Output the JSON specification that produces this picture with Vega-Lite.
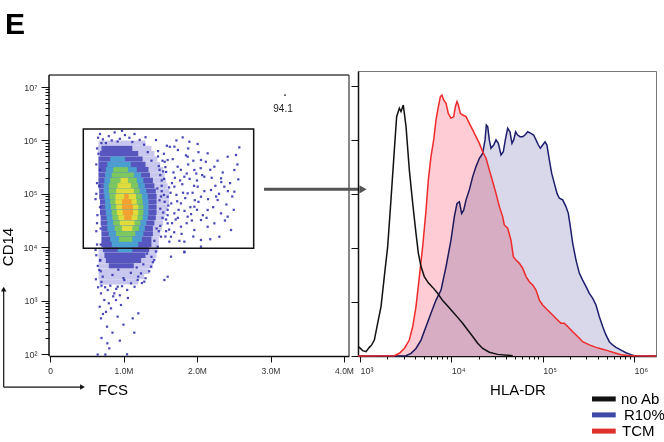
{
"$schema": "https://vega.github.io/schema/vega-lite/v6.json",
"padding": {"top": 9, "left": 0, "right": 0, "bottom": 0},
"autosize": {"type": "pad"},
"spacing": 9,
"bounds": "flush",
"resolve": {"scale": {"color": "independent"}},
"config": {"font": "Liberation Sans", "view": {"stroke": null}, "axis": {"grid": false, "title": null, "labelFont": "Liberation Sans", "labelColor": "#333", "tickColor": "#111", "domainColor": "#111", "labelOverlap": false, "labelFlush": false, "labelBound": false}},
"datasets": {
"dens": [
{"y":5.9,"y2":6.0,"x":0.66,"x2":1.30,"d":1},
{"y":5.8,"y2":5.9,"x":0.65,"x2":1.38,"d":1},{"y":5.8,"y2":5.9,"x":0.70,"x2":1.12,"d":2},
{"y":5.7,"y2":5.8,"x":0.65,"x2":1.42,"d":1},{"y":5.7,"y2":5.8,"x":0.68,"x2":1.20,"d":2},
{"y":5.6,"y2":5.7,"x":0.66,"x2":1.46,"d":1},{"y":5.6,"y2":5.7,"x":0.66,"x2":1.26,"d":2},{"y":5.6,"y2":5.7,"x":0.82,"x2":1.02,"d":3},
{"y":5.5,"y2":5.6,"x":0.66,"x2":1.50,"d":1},{"y":5.5,"y2":5.6,"x":0.66,"x2":1.30,"d":2},{"y":5.5,"y2":5.6,"x":0.78,"x2":1.10,"d":3},
{"y":5.4,"y2":5.5,"x":0.66,"x2":1.54,"d":1},{"y":5.4,"y2":5.5,"x":0.66,"x2":1.34,"d":2},{"y":5.4,"y2":5.5,"x":0.76,"x2":1.18,"d":3},{"y":5.4,"y2":5.5,"x":0.86,"x2":1.06,"d":4},
{"y":5.3,"y2":5.4,"x":0.66,"x2":1.56,"d":1},{"y":5.3,"y2":5.4,"x":0.66,"x2":1.36,"d":2},{"y":5.3,"y2":5.4,"x":0.75,"x2":1.24,"d":3},{"y":5.3,"y2":5.4,"x":0.84,"x2":1.14,"d":4},
{"y":5.2,"y2":5.3,"x":0.66,"x2":1.58,"d":1},{"y":5.2,"y2":5.3,"x":0.66,"x2":1.40,"d":2},{"y":5.2,"y2":5.3,"x":0.74,"x2":1.27,"d":3},{"y":5.2,"y2":5.3,"x":0.82,"x2":1.18,"d":4},{"y":5.2,"y2":5.3,"x":0.96,"x2":1.06,"d":5},
{"y":5.1,"y2":5.2,"x":0.66,"x2":1.60,"d":1},{"y":5.1,"y2":5.2,"x":0.66,"x2":1.42,"d":2},{"y":5.1,"y2":5.2,"x":0.73,"x2":1.29,"d":3},{"y":5.1,"y2":5.2,"x":0.80,"x2":1.20,"d":4},{"y":5.1,"y2":5.2,"x":0.92,"x2":1.10,"d":5},
{"y":5.0,"y2":5.1,"x":0.67,"x2":1.62,"d":1},{"y":5.0,"y2":5.1,"x":0.67,"x2":1.44,"d":2},{"y":5.0,"y2":5.1,"x":0.73,"x2":1.31,"d":3},{"y":5.0,"y2":5.1,"x":0.80,"x2":1.22,"d":4},{"y":5.0,"y2":5.1,"x":0.90,"x2":1.14,"d":5},
{"y":4.9,"y2":5.0,"x":0.67,"x2":1.62,"d":1},{"y":4.9,"y2":5.0,"x":0.67,"x2":1.45,"d":2},{"y":4.9,"y2":5.0,"x":0.74,"x2":1.33,"d":3},{"y":4.9,"y2":5.0,"x":0.81,"x2":1.25,"d":4},{"y":4.9,"y2":5.0,"x":0.89,"x2":1.17,"d":5},{"y":4.9,"y2":5.0,"x":1.01,"x2":1.07,"d":6},
{"y":4.8,"y2":4.9,"x":0.68,"x2":1.62,"d":1},{"y":4.8,"y2":4.9,"x":0.68,"x2":1.45,"d":2},{"y":4.8,"y2":4.9,"x":0.75,"x2":1.34,"d":3},{"y":4.8,"y2":4.9,"x":0.82,"x2":1.26,"d":4},{"y":4.8,"y2":4.9,"x":0.89,"x2":1.18,"d":5},{"y":4.8,"y2":4.9,"x":0.98,"x2":1.11,"d":6},
{"y":4.7,"y2":4.8,"x":0.68,"x2":1.60,"d":1},{"y":4.7,"y2":4.8,"x":0.68,"x2":1.45,"d":2},{"y":4.7,"y2":4.8,"x":0.75,"x2":1.34,"d":3},{"y":4.7,"y2":4.8,"x":0.83,"x2":1.27,"d":4},{"y":4.7,"y2":4.8,"x":0.90,"x2":1.20,"d":5},{"y":4.7,"y2":4.8,"x":0.98,"x2":1.13,"d":6},
{"y":4.6,"y2":4.7,"x":0.68,"x2":1.58,"d":1},{"y":4.6,"y2":4.7,"x":0.68,"x2":1.45,"d":2},{"y":4.6,"y2":4.7,"x":0.76,"x2":1.34,"d":3},{"y":4.6,"y2":4.7,"x":0.84,"x2":1.27,"d":4},{"y":4.6,"y2":4.7,"x":0.91,"x2":1.20,"d":5},{"y":4.6,"y2":4.7,"x":0.99,"x2":1.13,"d":6},
{"y":4.5,"y2":4.6,"x":0.69,"x2":1.56,"d":1},{"y":4.5,"y2":4.6,"x":0.69,"x2":1.44,"d":2},{"y":4.5,"y2":4.6,"x":0.77,"x2":1.33,"d":3},{"y":4.5,"y2":4.6,"x":0.85,"x2":1.26,"d":4},{"y":4.5,"y2":4.6,"x":0.93,"x2":1.19,"d":5},{"y":4.5,"y2":4.6,"x":1.01,"x2":1.11,"d":6},
{"y":4.4,"y2":4.5,"x":0.69,"x2":1.54,"d":1},{"y":4.4,"y2":4.5,"x":0.69,"x2":1.42,"d":2},{"y":4.4,"y2":4.5,"x":0.78,"x2":1.31,"d":3},{"y":4.4,"y2":4.5,"x":0.86,"x2":1.23,"d":4},{"y":4.4,"y2":4.5,"x":0.95,"x2":1.15,"d":5},
{"y":4.3,"y2":4.4,"x":0.70,"x2":1.52,"d":1},{"y":4.3,"y2":4.4,"x":0.70,"x2":1.40,"d":2},{"y":4.3,"y2":4.4,"x":0.78,"x2":1.29,"d":3},{"y":4.3,"y2":4.4,"x":0.88,"x2":1.21,"d":4},{"y":4.3,"y2":4.4,"x":0.98,"x2":1.12,"d":5},
{"y":4.2,"y2":4.3,"x":0.70,"x2":1.50,"d":1},{"y":4.2,"y2":4.3,"x":0.70,"x2":1.40,"d":2},{"y":4.2,"y2":4.3,"x":0.80,"x2":1.27,"d":3},{"y":4.2,"y2":4.3,"x":0.90,"x2":1.16,"d":4},
{"y":4.1,"y2":4.2,"x":0.70,"x2":1.48,"d":1},{"y":4.1,"y2":4.2,"x":0.70,"x2":1.38,"d":2},{"y":4.1,"y2":4.2,"x":0.82,"x2":1.25,"d":3},{"y":4.1,"y2":4.2,"x":0.94,"x2":1.12,"d":4},
{"y":4.0,"y2":4.1,"x":0.70,"x2":1.48,"d":1},{"y":4.0,"y2":4.1,"x":0.70,"x2":1.38,"d":2},{"y":4.0,"y2":4.1,"x":0.84,"x2":1.20,"d":3},
{"y":3.9,"y2":4.0,"x":0.66,"x2":1.47,"d":1},{"y":3.9,"y2":4.0,"x":0.72,"x2":1.35,"d":2},{"y":3.9,"y2":4.0,"x":0.92,"x2":1.12,"d":3},
{"y":3.8,"y2":3.9,"x":0.66,"x2":1.45,"d":1},{"y":3.8,"y2":3.9,"x":0.74,"x2":1.30,"d":2},
{"y":3.7,"y2":3.8,"x":0.66,"x2":1.42,"d":1},{"y":3.7,"y2":3.8,"x":0.76,"x2":1.24,"d":2},
{"y":3.6,"y2":3.7,"x":0.66,"x2":1.40,"d":1},{"y":3.6,"y2":3.7,"x":0.80,"x2":1.14,"d":2},
{"y":3.5,"y2":3.6,"x":0.66,"x2":1.35,"d":1},
{"y":3.4,"y2":3.5,"x":0.66,"x2":1.28,"d":1},
{"y":3.3,"y2":3.4,"x":0.67,"x2":1.20,"d":1}
],
"pts": [
{"x":1.442,"y":6.007},{"x":1.805,"y":6.057},{"x":1.896,"y":5.976},{"x":2.009,"y":5.933},{"x":1.692,"y":5.883},{"x":2.576,"y":5.870},{"x":2.417,"y":5.695},{"x":2.531,"y":5.727},{"x":2.054,"y":5.633},{"x":2.236,"y":5.508},{"x":2.508,"y":5.446},{"x":2.327,"y":5.290},{"x":2.562,"y":5.271},{"x":1.873,"y":5.695},{"x":2.145,"y":5.758},{"x":1.601,"y":5.633},{"x":1.737,"y":5.508},{"x":1.964,"y":5.446},{"x":2.100,"y":5.321},{"x":1.828,"y":5.321},{"x":2.009,"y":5.134},{"x":2.190,"y":5.071},{"x":2.372,"y":5.134},{"x":2.508,"y":5.040},{"x":1.692,"y":5.134},{"x":1.873,"y":5.009},{"x":2.054,"y":4.946},{"x":2.281,"y":4.884},{"x":1.601,"y":4.946},{"x":1.782,"y":4.821},{"x":1.964,"y":4.759},{"x":2.145,"y":4.697},{"x":2.327,"y":4.634},{"x":1.692,"y":4.634},{"x":1.873,"y":4.572},{"x":2.054,"y":4.509},{"x":2.236,"y":4.447},{"x":2.417,"y":4.572},{"x":1.601,"y":4.447},{"x":1.782,"y":4.384},{"x":1.964,"y":4.322},{"x":2.145,"y":4.384},{"x":2.304,"y":4.197},{"x":2.463,"y":4.322},{"x":1.646,"y":4.197},{"x":1.828,"y":4.104},{"x":2.054,"y":4.135},{"x":1.510,"y":4.197},{"x":1.465,"y":4.010},{"x":1.624,"y":4.104},{"x":1.828,"y":3.916},{"x":1.556,"y":3.386},{"x":2.054,"y":4.010},
{"x":1.48,"y":5.52},{"x":1.52,"y":5.25},{"x":1.55,"y":4.98},{"x":1.50,"y":4.72},{"x":1.53,"y":4.55},{"x":1.58,"y":5.41},{"x":1.62,"y":5.12},{"x":1.65,"y":4.82},{"x":1.60,"y":4.60},{"x":1.67,"y":5.65},{"x":1.70,"y":5.30},{"x":1.72,"y":4.98},{"x":1.75,"y":4.70},{"x":1.78,"y":5.45},{"x":1.80,"y":5.18},{"x":1.84,"y":4.92},{"x":1.88,"y":5.55},{"x":1.90,"y":5.28},{"x":1.94,"y":5.02},{"x":1.97,"y":4.88},{"x":1.47,"y":5.80},{"x":1.55,"y":5.75},{"x":1.63,"y":5.88},{"x":1.74,"y":5.82},{"x":1.85,"y":5.72},{"x":1.95,"y":5.62},{"x":1.50,"y":4.40},{"x":1.58,"y":4.30},{"x":1.66,"y":4.45},{"x":1.74,"y":4.55},{"x":1.86,"y":4.45},{"x":1.92,"y":4.62},{"x":2.00,"y":5.25},{"x":2.05,"y":5.48},{"x":2.10,"y":5.05},{"x":2.15,"y":4.90},{"x":2.20,"y":5.30},{"x":2.25,"y":5.15},{"x":2.30,"y":5.00},{"x":2.35,"y":5.40},{"x":2.12,"y":5.60},{"x":2.22,"y":4.75},{"x":2.40,"y":4.80},{"x":2.45,"y":5.20},{"x":2.00,"y":4.70},{"x":2.08,"y":4.60},{"x":1.46,"y":5.10},{"x":1.49,"y":4.88},{"x":1.56,"y":5.60},{"x":1.64,"y":5.02},{"x":1.69,"y":4.28},{"x":1.76,"y":4.12},{"x":1.81,"y":5.02},{"x":1.91,"y":4.75},{"x":1.99,"y":5.38},{"x":2.28,"y":5.62},{"x":2.38,"y":4.50},{"x":2.48,"y":4.95},{"x":2.55,"y":5.55},{"x":1.57,"y":4.20},
{"x":1.52,"y":5.05},{"x":1.54,"y":4.65},{"x":1.61,"y":4.78},{"x":1.68,"y":5.40},{"x":1.71,"y":4.52},{"x":1.77,"y":5.25},{"x":1.83,"y":4.68},{"x":1.86,"y":5.38},{"x":1.93,"y":4.50},{"x":1.96,"y":5.15},{"x":2.02,"y":4.85},{"x":2.07,"y":5.35},{"x":2.13,"y":4.55},{"x":2.18,"y":5.45},{"x":2.26,"y":4.95},{"x":2.33,"y":5.22},{"x":2.42,"y":5.05},{"x":2.50,"y":4.70},{"x":1.59,"y":5.90},{"x":1.72,"y":6.00},{"x":1.88,"y":5.85},{"x":2.02,"y":5.78},{"x":1.48,"y":4.30},{"x":1.62,"y":4.33},{"x":1.79,"y":4.25},{"x":1.95,"y":4.20},{"x":2.18,"y":4.15},{"x":1.54,"y":5.42},{"x":1.66,"y":5.20},{"x":1.73,"y":4.86},
{"x":0.68,"y":6.12},{"x":0.72,"y":6.02},{"x":0.80,"y":6.08},{"x":0.88,"y":6.15},{"x":0.95,"y":6.03},{"x":1.02,"y":6.10},{"x":1.08,"y":6.05},{"x":1.15,"y":6.12},{"x":0.76,"y":5.95},{"x":0.92,"y":5.98},{"x":1.12,"y":5.97},{"x":1.22,"y":6.01},{"x":0.98,"y":6.18},{"x":1.30,"y":6.06},{"x":0.84,"y":6.00},
{"x":0.63,"y":5.55},{"x":0.64,"y":5.20},{"x":0.62,"y":4.90},{"x":0.645,"y":4.60},{"x":0.63,"y":4.30},{"x":0.64,"y":4.05},{"x":0.63,"y":3.85},{"x":0.65,"y":3.65},{"x":0.625,"y":3.40},{"x":0.64,"y":5.85},{"x":0.655,"y":6.05},{"x":0.63,"y":5.00},{"x":0.64,"y":4.45},{"x":0.62,"y":3.95},{"x":0.655,"y":3.25},
{"x":1.47,"y":5.70},{"x":1.50,"y":5.35},{"x":1.52,"y":5.15},{"x":1.56,"y":4.85},{"x":1.58,"y":4.52},{"x":1.45,"y":4.35},{"x":1.51,"y":4.95},{"x":1.49,"y":5.45},{"x":1.55,"y":5.28},{"x":1.42,"y":4.12},{"x":1.44,"y":3.92},{"x":1.40,"y":3.72},{"x":1.35,"y":3.55},{"x":1.30,"y":3.42},{"x":1.25,"y":3.33},{"x":1.20,"y":3.45},{"x":1.38,"y":3.82},{"x":1.33,"y":5.78},{"x":1.38,"y":5.62},{"x":1.28,"y":5.92},{"x":0.70,"y":5.95},{"x":0.66,"y":5.75},{"x":0.68,"y":5.45},{"x":0.67,"y":5.15},{"x":0.68,"y":4.75},{"x":0.69,"y":4.35},{"x":0.69,"y":4.05},{"x":0.68,"y":3.75},{"x":0.69,"y":3.55},{"x":0.70,"y":3.35},{"x":1.00,"y":3.42},{"x":1.10,"y":3.52},{"x":0.85,"y":3.48},{"x":0.93,"y":3.58},{"x":1.18,"y":3.62},{"x":1.27,"y":3.68},{"x":1.32,"y":3.88},{"x":1.60,"y":4.70},{"x":1.57,"y":5.50},{"x":1.53,"y":5.62},
{"x":0.75,"y":3.25},{"x":0.82,"y":3.28},{"x":0.90,"y":3.22},{"x":0.98,"y":3.27},{"x":1.05,"y":3.20},{"x":1.15,"y":3.26},{"x":0.70,"y":3.28},{"x":0.86,"y":3.08},{"x":0.95,"y":3.10},{"x":1.06,"y":3.05},{"x":0.80,"y":2.95},{"x":0.72,"y":2.75},{"x":0.92,"y":2.70},{"x":1.00,"y":2.55},{"x":0.85,"y":2.40},{"x":0.70,"y":2.30},{"x":0.95,"y":2.25},{"x":0.78,"y":2.20},
{"x":0.694,"y":2.668},{"x":0.676,"y":2.886},{"x":0.776,"y":2.512},{"x":0.807,"y":2.106},{"x":1.125,"y":2.668},{"x":1.202,"y":2.762},{"x":1.147,"y":2.400},{"x":0.649,"y":1.990},{"x":0.753,"y":1.990},{"x":1.048,"y":1.995},{"x":0.694,"y":3.136},{"x":0.785,"y":3.199},{"x":0.875,"y":3.136},{"x":0.921,"y":3.261},{"x":1.011,"y":3.386},{"x":1.102,"y":3.323},{"x":1.193,"y":3.386},{"x":1.283,"y":3.355},{"x":0.898,"y":3.011},{"x":0.739,"y":3.011},{"x":0.717,"y":3.448},{"x":0.671,"y":3.573},{"x":0.685,"y":3.760},{"x":1.238,"y":3.510},{"x":1.374,"y":3.636},{"x":1.419,"y":3.760},{"x":0.762,"y":2.790},{"x":0.966,"y":2.918},{"x":0.830,"y":2.855},
{"x":1.828,"y":3.904},{"x":1.646,"y":3.823},{"x":1.601,"y":3.448}
],
"noab": [
{"v":2.978,"n":3.5},{"v":2.993,"n":3.2},{"v":3.029,"n":2.0},{"v":3.066,"n":1.6},{"v":3.102,"n":3.2},{"v":3.128,"n":4.1},{"v":3.157,"n":5.9},{"v":3.193,"n":12.1},{"v":3.230,"n":18.3},{"v":3.266,"n":29.4},{"v":3.303,"n":40.5},{"v":3.339,"n":57.8},{"v":3.376,"n":76.3},{"v":3.401,"n":88.6},{"v":3.431,"n":91.7},{"v":3.449,"n":90.5},{"v":3.474,"n":92.9},{"v":3.504,"n":84.9},{"v":3.540,"n":68.9},{"v":3.577,"n":56.5},{"v":3.613,"n":45.4},{"v":3.639,"n":38.0},{"v":3.668,"n":33.1},{"v":3.704,"n":29.4},{"v":3.748,"n":27.1},{"v":3.796,"n":25.4},{"v":3.850,"n":23.2},{"v":3.905,"n":20.5},{"v":3.960,"n":18.5},{"v":4.015,"n":16.4},{"v":4.069,"n":14.3},{"v":4.124,"n":12.1},{"v":4.179,"n":9.6},{"v":4.234,"n":7.2},{"v":4.288,"n":4.7},{"v":4.343,"n":2.8},{"v":4.416,"n":1.4},{"v":4.507,"n":0.6},{"v":4.672,"n":0.1}
],
"tcm": [
{"v":2.978,"n":0},{"v":3.376,"n":0.1},{"v":3.431,"n":1.0},{"v":3.485,"n":2.8},{"v":3.540,"n":5.9},{"v":3.577,"n":10.9},{"v":3.613,"n":18.3},{"v":3.650,"n":29.4},{"v":3.686,"n":40.5},{"v":3.723,"n":54.0},{"v":3.748,"n":65.2},{"v":3.777,"n":73.8},{"v":3.807,"n":80.0},{"v":3.832,"n":87.4},{"v":3.858,"n":92.3},{"v":3.880,"n":96.0},{"v":3.898,"n":96.6},{"v":3.916,"n":94.8},{"v":3.942,"n":93.5},{"v":3.967,"n":89.8},{"v":3.996,"n":88.0},{"v":4.026,"n":88.6},{"v":4.044,"n":92.3},{"v":4.062,"n":94.2},{"v":4.077,"n":92.9},{"v":4.099,"n":89.8},{"v":4.124,"n":89.2},{"v":4.161,"n":88.6},{"v":4.197,"n":86.1},{"v":4.234,"n":83.7},{"v":4.270,"n":81.2},{"v":4.307,"n":78.7},{"v":4.343,"n":75.6},{"v":4.380,"n":73.2},{"v":4.416,"n":68.9},{"v":4.453,"n":64.5},{"v":4.489,"n":60.2},{"v":4.526,"n":55.3},{"v":4.562,"n":51.6},{"v":4.580,"n":48.5},{"v":4.617,"n":47.3},{"v":4.653,"n":42.9},{"v":4.679,"n":36.8},{"v":4.708,"n":35.5},{"v":4.745,"n":34.3},{"v":4.781,"n":32.5},{"v":4.818,"n":29.4},{"v":4.854,"n":27.5},{"v":4.891,"n":26.3},{"v":4.927,"n":24.4},{"v":4.964,"n":20.7},{"v":5.000,"n":18.9},{"v":5.037,"n":17.6},{"v":5.073,"n":16.4},{"v":5.110,"n":15.2},{"v":5.146,"n":13.9},{"v":5.201,"n":12.1},{"v":5.237,"n":12.1},{"v":5.274,"n":10.9},{"v":5.329,"n":9.0},{"v":5.383,"n":7.2},{"v":5.438,"n":5.3},{"v":5.511,"n":4.1},{"v":5.584,"n":3.2},{"v":5.657,"n":2.5},{"v":5.712,"n":2.0},{"v":5.785,"n":1.2},{"v":5.858,"n":0.5},{"v":5.931,"n":0.2},{"v":6.004,"n":0.1},{"v":6.241,"n":0}
],
"r10": [
{"v":2.978,"n":0},{"v":3.504,"n":0.1},{"v":3.558,"n":1.0},{"v":3.613,"n":2.8},{"v":3.668,"n":5.9},{"v":3.723,"n":10.9},{"v":3.777,"n":15.8},{"v":3.832,"n":20.7},{"v":3.887,"n":24.4},{"v":3.942,"n":33.1},{"v":3.996,"n":42.9},{"v":4.033,"n":51.6},{"v":4.062,"n":56.5},{"v":4.088,"n":57.1},{"v":4.113,"n":52.8},{"v":4.135,"n":54.0},{"v":4.161,"n":57.8},{"v":4.197,"n":61.5},{"v":4.234,"n":66.4},{"v":4.270,"n":70.1},{"v":4.307,"n":73.2},{"v":4.343,"n":75.0},{"v":4.369,"n":80.0},{"v":4.383,"n":85.5},{"v":4.398,"n":84.9},{"v":4.416,"n":80.0},{"v":4.434,"n":76.9},{"v":4.464,"n":78.1},{"v":4.489,"n":80.0},{"v":4.515,"n":78.7},{"v":4.544,"n":74.4},{"v":4.569,"n":75.6},{"v":4.591,"n":80.0},{"v":4.617,"n":84.3},{"v":4.642,"n":83.0},{"v":4.664,"n":78.7},{"v":4.683,"n":80.0},{"v":4.704,"n":83.0},{"v":4.726,"n":81.8},{"v":4.752,"n":81.2},{"v":4.781,"n":81.2},{"v":4.807,"n":81.8},{"v":4.836,"n":83.0},{"v":4.872,"n":82.4},{"v":4.901,"n":81.8},{"v":4.927,"n":80.0},{"v":4.953,"n":78.1},{"v":4.974,"n":76.9},{"v":5.000,"n":78.1},{"v":5.026,"n":79.3},{"v":5.047,"n":78.1},{"v":5.073,"n":72.6},{"v":5.099,"n":67.6},{"v":5.128,"n":63.9},{"v":5.157,"n":60.2},{"v":5.183,"n":58.4},{"v":5.219,"n":57.8},{"v":5.255,"n":55.3},{"v":5.281,"n":52.8},{"v":5.303,"n":47.9},{"v":5.329,"n":41.7},{"v":5.365,"n":35.5},{"v":5.402,"n":30.6},{"v":5.438,"n":28.1},{"v":5.475,"n":25.7},{"v":5.511,"n":23.2},{"v":5.548,"n":21.3},{"v":5.584,"n":18.9},{"v":5.620,"n":14.6},{"v":5.657,"n":10.9},{"v":5.693,"n":7.8},{"v":5.730,"n":5.3},{"v":5.766,"n":4.1},{"v":5.803,"n":3.2},{"v":5.858,"n":2.2},{"v":5.912,"n":1.2},{"v":5.967,"n":0.5},{"v":6.004,"n":0.1},{"v":6.241,"n":0}
],
"legend": [
{"v":5.54,"v2":5.80,"n":-15.9,"t":"no Ab","tx":5.858},
{"v":5.54,"v2":5.80,"n":-21.8,"t":"R10%","tx":5.890},
{"v":5.54,"v2":5.80,"n":-27.8,"t":"TCM","tx":5.869}
]
},
"hconcat": [
{
"width": 300, "height": 285,
"resolve": {"axis": {"y": "independent"}},
"layer": [
{"data": {"name": "dens"}, "mark": {"type": "rect"},
 "encoding": {
  "x": {"field": "x", "type": "quantitative", "scale": {"domain": [-0.0136, 4.068], "nice": false, "zero": false},
   "axis": {"values": [0,0.25,0.5,0.75,1,1.25,1.5,1.75,2,2.25,2.5,2.75,3,3.25,3.5,3.75,4],
    "labelExpr": "datum.value == 0 ? '0' : (datum.value % 1 == 0 ? format(datum.value, '.1f') + 'M' : '')",
    "tickSize": {"condition": {"test": "datum.value % 1 == 0", "value": 6}, "value": 3},
    "labelOverlap": false, "labelFontSize": 8.5, "labelPadding": 4, "domainWidth": 1.5, "tickWidth": 1}},
  "x2": {"field": "x2"},
  "y": {"field": "y", "type": "quantitative", "scale": {"domain": [1.963, 7.30], "nice": false, "zero": false},
   "axis": {"orient": "left", "values": [2,3,4,5,6,7],
    "labelExpr": "'10' + ['⁰','¹','²','³','⁴','⁵','⁶','⁷','⁸','⁹'][round(datum.value)]",
    "tickSize": 8, "labelOverlap": false, "labelFontSize": 9, "labelPadding": 4, "domain": false, "tickWidth": 1}},
  "y2": {"field": "y2"},
  "color": {"field": "d", "type": "ordinal", "scale": {"domain": [1,2,3,4,5,6], "range": ["#c8c8ee","#5656be","#4a9ed0","#7cc85e","#e0dc3c","#f2a030"]}, "legend": null}
 }},
{"data": {"name": "pts"}, "mark": {"type": "point", "shape": "square", "filled": true, "size": 5, "color": "#3434b0", "opacity": 0.9},
 "encoding": {"x": {"field": "x", "type": "quantitative"},
  "y": {"field": "y", "type": "quantitative", "axis": {"orient": "left", "values": [2.301,2.4771,2.6021,2.699,2.7782,2.8451,2.9031,2.9542,3.301,3.4771,3.6021,3.699,3.7782,3.8451,3.9031,3.9542,4.301,4.4771,4.6021,4.699,4.7782,4.8451,4.9031,4.9542,5.301,5.4771,5.6021,5.699,5.7782,5.8451,5.9031,5.9542,6.301,6.4771,6.6021,6.699,6.7782,6.8451,6.9031,6.9542], "labels": false, "tickSize": 4, "domain": false, "tickWidth": 1}}}},
{"data": {"values": [{"x": 0.453, "x2": 2.771, "y": 3.979, "y2": 6.213}]},
 "mark": {"type": "rect", "filled": false, "stroke": "#111", "strokeWidth": 1.5},
 "encoding": {"x": {"field": "x", "type": "quantitative"}, "x2": {"field": "x2"}, "y": {"field": "y", "type": "quantitative", "axis": null}, "y2": {"field": "y2"}}},
{"data": {"values": [{"x": -0.0136, "x2": 4.068, "y": 7.225, "y2": 7.225}, {"x": 4.068, "x2": 4.068, "y": 1.963, "y2": 7.225}]},
 "mark": {"type": "rule", "color": "#444", "strokeWidth": 1.3},
 "encoding": {"x": {"field": "x", "type": "quantitative"}, "x2": {"field": "x2"}, "y": {"field": "y", "type": "quantitative", "axis": null}, "y2": {"field": "y2"}}},
{"data": {"values": [{"x": -0.0136, "x2": -0.0136, "y": 1.963, "y2": 7.225}]},
 "mark": {"type": "rule", "color": "#111", "strokeWidth": 1.5},
 "encoding": {"x": {"field": "x", "type": "quantitative"}, "x2": {"field": "x2"}, "y": {"field": "y", "type": "quantitative", "axis": null}, "y2": {"field": "y2"}}},
{"data": {"values": [{"x": 2.912, "x2": 4.204, "y": 5.084, "y2": 5.084}]},
 "mark": {"type": "rule", "color": "#555", "strokeWidth": 3},
 "encoding": {"x": {"field": "x", "type": "quantitative"}, "x2": {"field": "x2"}, "y": {"field": "y", "type": "quantitative", "axis": null}, "y2": {"field": "y2"}}},
{"data": {"values": [{"x": 4.259, "y": 5.084}]},
 "mark": {"type": "point", "shape": "triangle-right", "filled": true, "size": 70, "color": "#555", "opacity": 1},
 "encoding": {"x": {"field": "x", "type": "quantitative"}, "y": {"field": "y", "type": "quantitative", "axis": null}}},
{"data": {"values": [{"x": -0.630, "x2": -0.630, "y": 1.382, "y2": 3.18}, {"x": -0.630, "x2": 0.43, "y": 1.382, "y2": 1.382}]},
 "mark": {"type": "rule", "color": "#111", "strokeWidth": 1.2},
 "encoding": {"x": {"field": "x", "type": "quantitative"}, "x2": {"field": "x2"}, "y": {"field": "y", "type": "quantitative", "axis": null}, "y2": {"field": "y2"}}},
{"data": {"values": [{"x": -0.630, "y": 3.217}]},
 "mark": {"type": "point", "shape": "triangle-up", "filled": true, "size": 30, "color": "#111", "opacity": 1},
 "encoding": {"x": {"field": "x", "type": "quantitative"}, "y": {"field": "y", "type": "quantitative", "axis": null}}},
{"data": {"values": [{"x": 0.442, "y": 1.382}]},
 "mark": {"type": "point", "shape": "triangle-right", "filled": true, "size": 30, "color": "#111", "opacity": 1},
 "encoding": {"x": {"field": "x", "type": "quantitative"}, "y": {"field": "y", "type": "quantitative", "axis": null}}},
{"data": {"values": [{"x": 3.197, "y": 6.85}]},
 "mark": {"type": "point", "shape": "square", "filled": true, "size": 3, "color": "#555", "opacity": 1},
 "encoding": {"x": {"field": "x", "type": "quantitative"}, "y": {"field": "y", "type": "quantitative", "axis": null}}},
{"data": {"values": [{"x": 3.17, "y": 6.588, "t": "94.1"}]},
 "mark": {"type": "text", "fontSize": 10, "color": "#222", "align": "center", "baseline": "middle"},
 "encoding": {"x": {"field": "x", "type": "quantitative"}, "y": {"field": "y", "type": "quantitative", "axis": null}, "text": {"field": "t"}}},
{"data": {"values": [{"x": -0.612, "y": 7.993, "t": "E"}]},
 "mark": {"type": "text", "fontSize": 30, "fontWeight": "bold", "color": "#000", "align": "left", "baseline": "alphabetic"},
 "encoding": {"x": {"field": "x", "type": "quantitative"}, "y": {"field": "y", "type": "quantitative", "axis": null}, "text": {"field": "t"}}},
{"data": {"values": [{"x": -0.565, "y": 4.004, "t": "CD14"}]},
 "mark": {"type": "text", "fontSize": 15, "color": "#000", "align": "center", "baseline": "middle", "angle": 270},
 "encoding": {"x": {"field": "x", "type": "quantitative"}, "y": {"field": "y", "type": "quantitative", "axis": null}, "text": {"field": "t"}}},
{"data": {"values": [{"x": 0.653, "y": 1.326, "t": "FCS"}]},
 "mark": {"type": "text", "fontSize": 15, "color": "#000", "align": "left", "baseline": "middle"},
 "encoding": {"x": {"field": "x", "type": "quantitative"}, "y": {"field": "y", "type": "quantitative", "axis": null}, "text": {"field": "t"}}}
]
},
{
"width": 298, "height": 285,
"view": {"stroke": "#777", "strokeWidth": 1},
"resolve": {"axis": {"x": "independent"}},
"layer": [
{"data": {"name": "r10"}, "mark": {"type": "area", "color": "#d8d8ea"},
 "encoding": {
  "x": {"field": "v", "type": "quantitative", "scale": {"domain": [2.978, 6.241], "nice": false, "zero": false},
   "axis": {"orient": "bottom", "values": [3,4,5,6],
    "labelExpr": "'10' + ['⁰','¹','²','³','⁴','⁵','⁶','⁷','⁸','⁹'][round(datum.value)]",
    "tickSize": 6, "labelOverlap": false, "labelFontSize": 9, "labelAlign": "left", "labelPadding": 4, "domainWidth": 1.5, "tickWidth": 1}},
  "y": {"field": "n", "type": "quantitative", "scale": {"domain": [0, 105.5], "nice": false, "zero": false},
   "axis": {"values": [0,5,10,15,20,25,30,35,40,45,50,55,60,65,70,75,80,85,90,95,100,105], "labels": false,
    "tickSize": {"condition": {"test": "datum.value % 20 == 0", "value": 7}, "value": 3.5},
    "domainWidth": 1.5, "tickWidth": 1}}
 }},
{"data": {"name": "r10"}, "mark": {"type": "line", "color": "#1e1e6e", "strokeWidth": 1.5},
 "encoding": {"x": {"field": "v", "type": "quantitative", "axis": {"orient": "bottom", "values": [3.301,3.4771,3.6021,3.699,3.7782,3.8451,3.9031,3.9542,4.301,4.4771,4.6021,4.699,4.7782,4.8451,4.9031,4.9542,5.301,5.4771,5.6021,5.699,5.7782,5.8451,5.9031,5.9542], "labels": false, "tickSize": 3, "domain": false, "tickWidth": 1}}, "y": {"field": "n", "type": "quantitative"}}},
{"data": {"name": "tcm"}, "mark": {"type": "area", "color": "#fdccd4", "blend": "multiply"},
 "encoding": {"x": {"field": "v", "type": "quantitative", "axis": null}, "y": {"field": "n", "type": "quantitative"}}},
{"data": {"name": "tcm"}, "mark": {"type": "line", "color": "#ee2a2a", "strokeWidth": 1.5},
 "encoding": {"x": {"field": "v", "type": "quantitative", "axis": null}, "y": {"field": "n", "type": "quantitative"}}},
{"data": {"name": "noab"}, "mark": {"type": "line", "color": "#111", "strokeWidth": 1.5},
 "encoding": {"x": {"field": "v", "type": "quantitative", "axis": null}, "y": {"field": "n", "type": "quantitative"}}},
{"data": {"name": "legend"}, "mark": {"type": "rule", "strokeWidth": 5},
 "encoding": {"x": {"field": "v", "type": "quantitative", "axis": null}, "x2": {"field": "v2"}, "y": {"field": "n", "type": "quantitative"},
  "color": {"field": "t", "type": "nominal", "scale": {"domain": ["no Ab", "R10%", "TCM"], "range": ["#111111", "#4048a8", "#e0302a"]}, "legend": null}}},
{"data": {"name": "legend"}, "mark": {"type": "text", "fontSize": 15, "color": "#000", "align": "left", "baseline": "middle"},
 "encoding": {"x": {"field": "tx", "type": "quantitative", "axis": null}, "y": {"field": "n", "type": "quantitative"}, "text": {"field": "t"}}},
{"data": {"values": [{"v": 4.73, "n": -12.6, "t": "HLA-DR"}]},
 "mark": {"type": "text", "fontSize": 15, "color": "#000", "align": "center", "baseline": "middle"},
 "encoding": {"x": {"field": "v", "type": "quantitative", "axis": null}, "y": {"field": "n", "type": "quantitative"}, "text": {"field": "t"}}}
]
}
]
}
